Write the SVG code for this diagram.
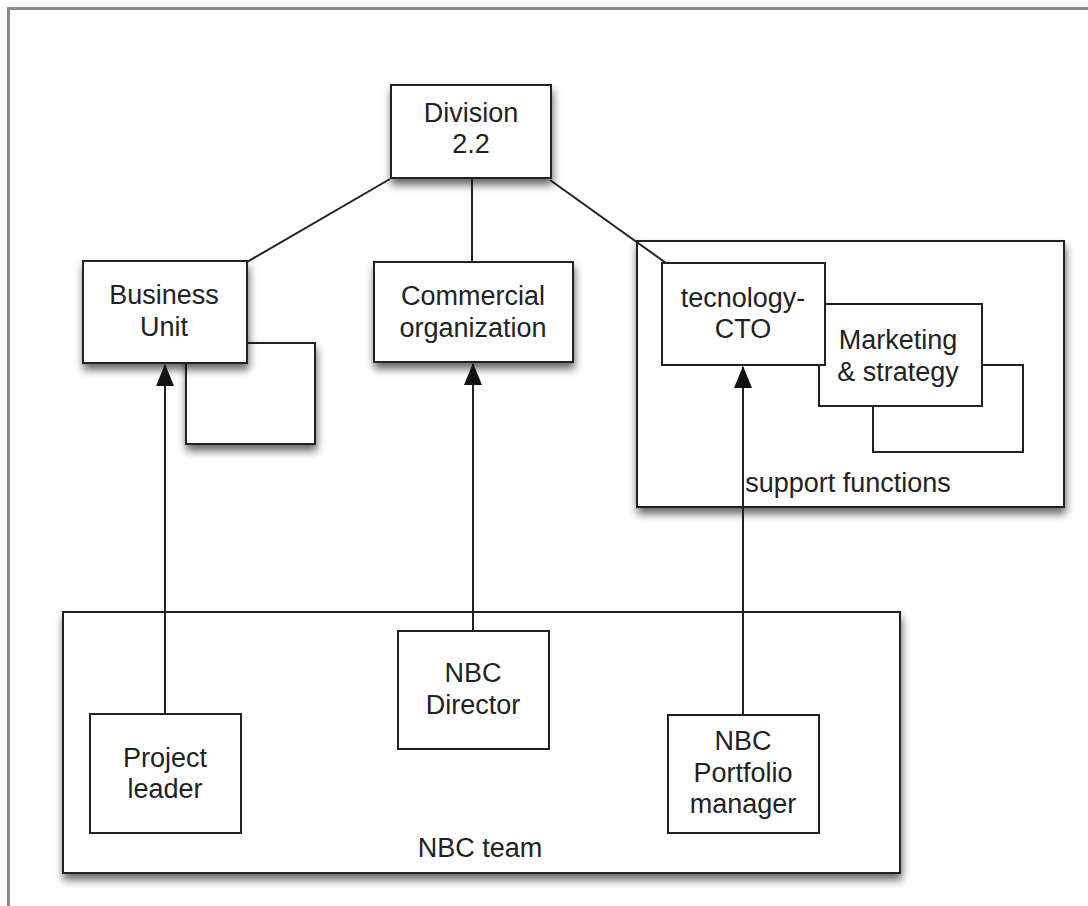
<svg xmlns="http://www.w3.org/2000/svg" width="1088" height="906" viewBox="0 0 1088 906">
<defs>
<filter id="sh" x="-20%" y="-20%" width="140%" height="150%">
<feDropShadow dx="1" dy="6" stdDeviation="4.5" flood-color="#000" flood-opacity="0.6"/>
</filter>
<marker id="arr" markerUnits="userSpaceOnUse" markerWidth="22" markerHeight="18" viewBox="0 0 22 18" refX="21" refY="9" orient="auto">
<path d="M0,0 L22,9 L0,18 Z" fill="#111"/>
</marker>
<style>
.box{fill:#fff;stroke:#222;stroke-width:2}
.t{font-family:"Liberation Sans",Arial,sans-serif;font-size:27px;fill:#222;text-anchor:middle}
.ln{stroke:#222;stroke-width:2;fill:none}
</style>
</defs>
<rect width="1088" height="906" fill="#fff"/>
<path d="M8.5,906 V8.5 H1088" fill="none" stroke="#8c8c8c" stroke-width="3"/>

<g id="nbc-team">
<rect class="box" x="63" y="612" width="837" height="261" filter="url(#sh)"/>
<text class="t" x="480" y="857">NBC team</text>
</g>
<g id="support-functions">
<rect class="box" x="637" y="241" width="427" height="266" filter="url(#sh)"/>
<text class="t" x="848" y="492">support functions</text>
</g>
<g id="bu-back">
<rect class="box" x="186" y="343" width="129" height="101" filter="url(#sh)"/>
</g>
<g id="business-unit">
<rect class="box" x="83" y="261" width="164" height="102" filter="url(#sh)"/>
<text class="t" x="164" y="304">Business</text>
<text class="t" x="164" y="336">Unit</text>
</g>
<g id="division">
<rect class="box" x="391" y="85" width="160" height="93" filter="url(#sh)"/>
<text class="t" x="471" y="122">Division</text>
<text class="t" x="471" y="153">2.2</text>
</g>
<g id="commercial">
<rect class="box" x="374" y="262" width="199" height="100" filter="url(#sh)"/>
<text class="t" x="473" y="305">Commercial</text>
<text class="t" x="473" y="337">organization</text>
</g>
<g id="mkt-back">
<rect class="box" x="873" y="365" width="150" height="87"/>
</g>
<g id="marketing">
<rect class="box" x="819" y="304" width="163" height="102"/>
<text class="t" x="898" y="349">Marketing</text>
<text class="t" x="898" y="381">&amp; strategy</text>
</g>
<g id="cto">
<rect class="box" x="662" y="263" width="163" height="102"/>
<text class="t" x="743" y="307">tecnology-</text>
<text class="t" x="743" y="338">CTO</text>
</g>
<g id="project-leader">
<rect class="box" x="90" y="714" width="151" height="119"/>
<text class="t" x="165" y="767">Project</text>
<text class="t" x="165" y="798">leader</text>
</g>
<g id="nbc-director">
<rect class="box" x="398" y="631" width="151" height="118"/>
<text class="t" x="473" y="682">NBC</text>
<text class="t" x="473" y="714">Director</text>
</g>
<g id="portfolio">
<rect class="box" x="668" y="715" width="151" height="118"/>
<text class="t" x="743" y="750">NBC</text>
<text class="t" x="743" y="782">Portfolio</text>
<text class="t" x="743" y="813">manager</text>
</g>

<g id="connectors">
<line class="ln" x1="390" y1="179" x2="247" y2="262"/>
<line class="ln" x1="472" y1="179" x2="472" y2="262"/>
<line class="ln" x1="550" y1="180" x2="666" y2="263"/>
<line class="ln" x1="165" y1="714" x2="165" y2="365" marker-end="url(#arr)"/>
<line class="ln" x1="473" y1="631" x2="473" y2="364" marker-end="url(#arr)"/>
<line class="ln" x1="743" y1="715" x2="743" y2="367" marker-end="url(#arr)"/>
</g>
</svg>
